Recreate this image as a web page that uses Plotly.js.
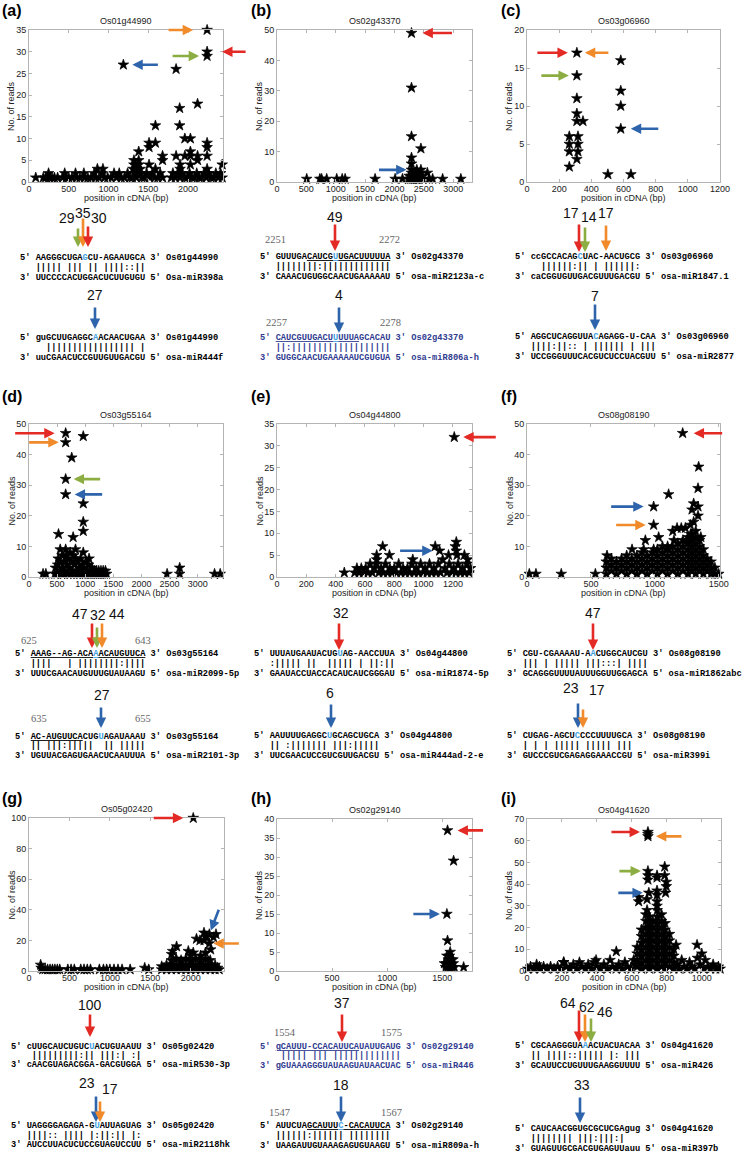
<!DOCTYPE html>
<html>
<head>
<meta charset="utf-8">
<script src="https://cdn.plot.ly/plotly-3.0.1.min.js"></script>
<style>
  body { margin: 0; background: #fff; }
  #fig { width: 750px; height: 1155px; }
</style>
</head>
<body>
<div id="fig"></div>
<script>
// ---- degradome reads (position in cDNA, no. of reads) ----
var readsA = [[2240,35],[2240,30],[2240,29],[1187,27],[1850,26],[1895,17],[2120,18],[1895,13],[1590,13],
  [1960,10],[2030,10],[1510,9],[1590,9],[1510,8],[1380,7],[2240,9],[2240,8],[2240,6],[1850,6],[1960,6],
  [2030,7],[2030,6],[2120,6],[2120,5],[1680,6],[1680,5],[2430,4],[1510,4],[1900,4],[2030,4],[1320,5],
  [1380,5],[1320,4],[1380,4],[1590,3],[860,3],[930,3],[1900,3],[2240,3],[1310,3],[1350,3],[1400,3],
  [1330,2],[85,1],[180,1],[210,1],[246,2],[260,1],[290,1],[320,1],[360,1],[420,1],[449,2],[470,1],
  [500,1],[540,1],[585,2],[600,1],[640,1],[690,2],[700,1],[740,1],[780,1],[820,2],[840,1],[880,1],
  [920,2],[950,1],[990,1],[1030,1],[1070,2],[1100,1],[1135,2],[1160,1],[1200,1],[1240,2],[1270,1],
  [1300,1],[1340,2],[1350,1],[1400,2],[1420,1],[1450,1],[1480,2],[1520,1],[1550,2],[1580,1],[1620,1],
  [1650,2],[1680,1],[1790,1],[1810,2],[1840,1],[1870,2],[1900,1],[1930,2],[1960,1],[1990,1],[2020,2],
  [2050,1],[2080,1],[2110,2],[2140,1],[2170,1],[2200,2],[2230,1],[2260,2],[2290,1],[2320,1],[2350,2],
  [2380,1],[2410,2],[2430,1]];

var readsB = [[2290,49],[2290,31],[2290,15],[2450,11],[2290,8],[2290,6],[2290,4],[2290,3],[2290,2],
  [2270,1],[2300,1],[2330,2],[2360,3],[2380,4],[2400,2],[2420,1],[2440,3],[2460,2],[2480,1],[2350,1],
  [2400,1],[2250,2],[2450,4],[2320,1],[2380,1],[2560,3],[2590,1],[2650,1],[2820,1],[3130,1],[506,1],
  [730,1],[760,1],[846,1],[1017,1],[1110,1],[1160,1],[1670,1],[2011,1],[2136,1],[2240,1]];

var readsC = [[310,17],[310,14],[310,11],[310,9],[310,8],[348,8],[263,6],[317,6],[263,5],[317,5],
  [263,4],[317,4],[310,3],[263,2],[503,1],[646,1],[583,16],[583,12],[583,10],[583,7]];

var readsD = [[652,47],[965,46],[652,44],[760,39],[652,32],[652,27],[965,24],[965,18],[965,15],[785,13],
  [525,14],[965,8],[555,9],[652,9],[827,9],[1068,6],[250,1],[300,1],[460,1],[470,3],[500,1],[510,4],
  [520,6],[540,2],[560,5],[580,1],[590,7],[600,3],[620,1],[630,5],[650,2],[660,7],[680,4],[690,1],
  [700,6],[720,3],[730,8],[740,1],[760,5],[770,2],[790,7],[800,1],[810,4],[830,6],[840,2],[860,1],
  [870,5],[890,3],[900,1],[920,6],[930,2],[950,4],[960,1],[980,3],[1000,1],[1010,5],[1030,2],[1050,1],
  [1060,4],[1080,2],[1100,1],[1120,3],[1140,1],[1160,2],[1180,1],[1200,2],[1220,1],[1240,2],[1260,1],
  [1280,2],[1300,1],[1320,2],[1340,1],[1360,2],[1380,1],[2456,1],[2680,1],[2680,3],[3300,1],[3400,1]];

var readsE = [[1209,32],[721,7],[767,5],[680,5],[680,4],[1079,7],[1109,6],[1223,8],[1216,7],[1223,6],
  [1228,5],[926,4],[1170,5],[1278,5],[1300,4],[459,1],[530,1],[545,2],[560,1],[575,2],[590,1],[605,2],
  [620,1],[635,3],[650,1],[665,2],[680,3],[695,1],[710,2],[725,1],[740,3],[755,1],[770,2],[785,1],
  [800,2],[815,1],[830,3],[845,1],[860,2],[875,1],[890,2],[905,1],[920,3],[935,1],[950,2],[965,1],
  [980,3],[995,1],[1010,2],[1025,1],[1040,3],[1055,1],[1070,2],[1085,1],[1100,3],[1115,1],[1130,4],
  [1145,2],[1160,1],[1175,3],[1190,1],[1205,2],[1220,1],[1235,3],[1250,1],[1265,2],[1280,1],[1295,3],
  [1310,1],[1320,2]];

var readsF = [[1218,47],[1343,36],[1338,29],[1108,27],[1304,24],[1338,23],[1291,22],[1338,20],[991,23],
  [991,17],[1304,18],[1278,17],[1239,16],[1207,16],[1174,16],[1140,15],[1030,13],[926,12],[822,9],
  [913,9],[991,9],[626,7],[1150,12],[1280,14],[1320,15],[1360,13],[1250,12],[1060,10],[18,1],[70,1],
  [268,1],[535,1],
  [620,1],[620,3],[620,5],[660,2],[660,4],[660,6],[700,1],[700,3],[700,5],[740,2],[740,4],[740,6],
  [780,1],[780,3],[780,5],[780,7],[820,2],[820,4],[820,6],[860,1],[860,3],[860,5],[860,7],
  [900,2],[900,4],[900,6],[900,8],[940,1],[940,3],[940,5],[940,7],[980,2],[980,4],[980,6],[980,8],
  [1020,1],[1020,3],[1020,5],[1020,7],[1020,9],[1060,2],[1060,4],[1060,6],[1060,8],
  [1100,1],[1100,3],[1100,5],[1100,7],[1100,9],[1100,10],[1140,2],[1140,4],[1140,6],[1140,8],[1140,10],
  [1180,1],[1180,3],[1180,5],[1180,7],[1180,9],[1180,11],[1220,2],[1220,4],[1220,6],[1220,8],[1220,10],[1220,12],
  [1260,1],[1260,3],[1260,5],[1260,7],[1260,9],[1260,11],[1260,13],
  [1290,2],[1290,4],[1290,6],[1290,8],[1290,10],[1290,12],[1290,14],
  [1320,1],[1320,3],[1320,5],[1320,7],[1320,9],[1320,11],[1320,13],
  [1350,2],[1350,4],[1350,6],[1350,8],[1350,10],[1350,12],[1380,1],[1380,3],[1380,5],[1380,7],[1380,9],
  [1410,2],[1410,4],[1410,6],[1440,1],[1440,3],[1440,5],[1470,1],[1470,3],[1500,1]];

var readsG = [[2030,100],[2163,25],[2229,24],[2311,24],[2113,20],[2163,20],[2229,18],[2245,14],
  [1824,16],[1775,13],[1762,11],[1969,13],[2030,12],[2070,21],[2190,22],[2280,22],
  [1640,1],[1640,3],[1670,2],[1700,1],[1700,4],[1730,2],[1760,1],[1760,4],[1760,7],[1790,2],
  [1820,1],[1820,4],[1820,8],[1850,2],[1880,1],[1880,4],[1880,7],[1910,2],[1940,1],[1940,4],[1940,8],
  [1970,2],[2000,1],[2000,4],[2000,7],[2000,10],[2030,2],[2060,1],[2060,4],[2060,8],[2090,2],
  [2120,1],[2120,4],[2120,7],[2120,10],[2150,2],[2180,1],[2180,4],[2180,8],[2180,12],[2210,2],
  [2240,1],[2240,4],[2240,7],[2270,2],[2300,1],[2300,4],[2330,2],[2350,1],
  [144,4],[150,2],[170,1],[200,1],[230,1],[260,1],[290,1],[320,1],[350,1],[380,1],[480,1],[520,1],
  [560,1],[640,1],[680,1],[720,1],[760,1],[870,1],[920,1],[960,1],[1000,1],[1050,1],[1100,1],
  [1150,1],[1250,1],[1430,2],[1480,1]];

var readsH = [[1548,37],[1603,29],[1542,15],[1548,8],[1572,5],[1542,4],[1597,3],[1694,1],[1530,1],
  [1540,2],[1550,1],[1560,2],[1570,1],[1580,3],[1590,1],[1600,2],[1610,1],[1520,2],[1555,3],[1565,4]];

var readsI = [[692,64],[692,63],[692,62],[692,46],[692,44],[692,42],[744,44],[744,43],[788,48],[788,44],
  [797,41],[797,39],[793,36],[639,34],[639,32],[687,33],[697,36],[744,37],[744,35],[744,32],[744,30],
  [687,28],[853,12],[973,12],[511,9],[395,5],[210,4],[71,2],
  [630,2],[630,5],[630,8],[630,11],[655,1],[655,4],[655,7],[655,10],[655,13],[655,16],[655,19],
  [680,2],[680,5],[680,8],[680,11],[680,14],[680,17],[680,20],[680,23],[680,26],
  [700,1],[700,4],[700,7],[700,10],[700,13],[700,16],[700,19],[700,22],[700,25],
  [720,2],[720,5],[720,8],[720,11],[720,14],[720,17],[720,20],[720,23],
  [745,1],[745,4],[745,7],[745,10],[745,13],[745,16],[745,19],[745,22],[745,25],[745,28],
  [770,2],[770,5],[770,8],[770,11],[770,14],[770,17],[770,20],[770,23],[770,26],
  [790,1],[790,4],[790,7],[790,10],[790,13],[790,16],[790,19],[790,22],
  [815,2],[815,5],[815,8],[815,11],[815,14],[815,17],[840,1],[840,4],[840,7],[840,10],
  [5,1],[20,2],[40,1],[55,3],[75,1],[95,2],[115,1],[135,2],[155,1],[175,2],[195,1],[210,4],[225,2],
  [245,1],[265,3],[285,1],[300,4],[315,2],[335,1],[350,3],[370,1],[385,4],[400,2],[420,1],[440,3],
  [460,1],[475,5],[490,2],[510,1],[525,3],[545,1],[560,4],[575,2],[595,1],[610,5],[620,3],[860,3],
  [870,1],[885,5],[900,2],[915,1],[930,4],[945,2],[960,1],[975,6],[990,3],[1000,8],[1010,1],[1020,5],
  [1035,2],[1050,1],[1065,3],[1080,1],[1095,2],[1105,1]];

var geneNames = ['Os01g44990','Os02g43370','Os03g06960','Os03g55164','Os04g44800',
                 'Os08g08190','Os05g02420','Os02g29140','Os04g41620'];
var panelLetters = ['(a)','(b)','(c)','(d)','(e)','(f)','(g)','(h)','(i)'];

// alignments: [ ] = underlined, { } = cleavage nucleotide
var alignTexts = [
  ["5' AAGGGCUGA{G}CU-AGAAUGCA 3' Os01g44990", "   ||||| ||| || ||||::||", "3' UUCCCCACUGGACUCUUGUGU 5' Osa-miR398a"],
  ["5' guGCUUGAGGC{A}ACAACUGAA 3' Os01g44990", "     ||||||||||||||||| |", "3' uuCGAACUCCGUUGUUGACGU 5' osa-miR444f"],
  ["5' GUUUGA[CAUCG{U}UGACUUUUUA] 3' Os02g43370", "   ||||||||:|||||||||||||", "3' CAAACUGUGGCAACUGAAAAAU 5' osa-miR2123a-c"],
  ["5' [CAUCGUUGACU{U}UUUA]GCACAU 3' Os02g43370", "   ||:|||||||||||||||||||", "3' GUGGCAACUGAAAAAUCGUGUA 5' osa-miR806a-h"],
  ["5' ccGCCACAG{C}UAC-AACUGCG 3' Os03g06960", "     ||||||:|| | ||||||:", "3' caCGGUGUUGACGUUUGACGU 5' osa-miR1847.1"],
  ["5' AGGCUCAGGUUA{C}AGAGG-U-CAA 3' Os03g06960", "   ||||:||:: | |||||| | |||", "3' UCCGGGUUUCACGUCUCCUACGUU 5' osa-miR2877"],
  ["5' [AAAG--AG-ACA{A}ACAUGUUCA] 3' Os03g55164", "   ||||   | ||||||||:||||", "3' UUUCGAACAUGUUUGUAUAAGU 5' osa-miR2099-5p"],
  ["5' [AC-AUGUUCA]CUG{U}AGAUAAAU 3' Os03g55164", "   || |||:|||||  || |||||", "3' UGUUACGAGUGAACUCAAUUUA 5' osa-miR2101-3p"],
  ["5' UUUAUGAAUACUG{U}AG-AACCUUA 3' Os04g44800", "   :||||| ||  ||||| | ||:||", "3' GAAUACCUACCACAUCAUCGGGAU 5' osa-miR1874-5p"],
  ["5' AAUUUUGAGGC{U}GCAGCUGCA 3' Os04g44800", "   || :||||||| |||:|||||", "3' UUCGAACUCCGUCGUUGACGU 5' osa-miR444ad-2-e"],
  ["5' CGU-CGAAAAU-A{A}CUGGCAUCGU 3' Os08g08190", "   ||| | ||||| |||:::| ||||", "3' GCAGGGUUUUAUUUGGUUGGAGCA 5' osa-miR1862abc"],
  ["5' CUGAG-AGCU{C}CCCUUUUGCA 3' Os08g08190", "   | | | ||||| ||||| |||", "3' GUCCCGUCGAGAGGAAACCGU 5' osa-miR399i"],
  ["5' cUUGCAUCUGUC{U}ACUGUAAUU 3' Os05g02420", "    |||||||||:|| |||:| :|", "3' cAACGUAGACGGA-GACGUGGA 5' osa-miR530-3p"],
  ["5' UAGGGGAGAGA-G{U}AUUAGUAG 3' Os05g02420", "   ||||:: |||| |:||:|| |:", "3' AUCCUUACUCUCCGUAGUCCUU 5' osa-miR2118hk"],
  ["5' [gCAUUU-CCACAUUCA]UAUUGAUG 3' Os02g29140", "    ||||| ||| |||||||||||||", "3' gGUAAAGGGUAUAAGUAUAACUAC 5' osa-miR446"],
  ["5' AUUCUA[GCAUUU{C}-CACAUUCA] 3' Os02g29140", "   ||||||:|||||| ||||||||", "3' UAAGAUUGUAAAGAGUGUAAGU 5' osa-miR809a-h"],
  ["5' CGCAAGGGUA{A}ACUACUACAA 3' Os04g41620", "   || ||||::||||| |: |||", "3' GCAUUCCUGUUUGAAGGUUUU 5' osa-miR426"],
  ["5' CAUCAACGGUGCGCUCGAgug 3' Os04g41620", "   |||||||| |||:|||:|", "3' GUAGUUGCGACGUGAGUUauu 5' osa-miR397b"]
];

// read counts written above the cleavage arrows
var siteCounts = ['29','35','30','27','49','4','17','14','17','7','47','32','44','27','32','6',
                  '47','23','17','100','23','17','37','18','64','62','46','33'];
var siteNumbers = ['2251','2272','2257','2278','625','643','635','655','1554','1575','1547','1567'];

// ---- layout ----
var W = 750, H = 1155;
var RED = '#e42a25', ORANGE = '#f08a2b', GREEN = '#8bad41', BLUE = '#2d64ab';
var HILITE = '#43a0df', NAVY = '#2f3b8f';

var panels = [
  {box: [29, 223, 30, 182],  xr: [0, 2440], dx: 500, yr: [0, 35],  dy: 5,  pts: readsA},
  {box: [277, 472, 30, 182], xr: [0, 3320], dx: 500, yr: [0, 50],  dy: 10, pts: readsB},
  {box: [527, 720, 30, 182], xr: [0, 1200], dx: 200, yr: [0, 20],  dy: 5,  pts: readsC},
  {box: [29, 223, 424, 577], xr: [0, 3450], dx: 500, yr: [0, 50],  dy: 10, pts: readsD},
  {box: [277, 472, 424, 577],xr: [0, 1330], dx: 200, yr: [0, 35],  dy: 5,  pts: readsE},
  {box: [527, 720, 424, 577],xr: [0, 1510], dx: 500, yr: [0, 50],  dy: 10, pts: readsF},
  {box: [29, 224, 818, 971], xr: [0, 2410], dx: 500, yr: [0, 100], dy: 20, pts: readsG},
  {box: [277, 472, 819, 971],xr: [0, 1770], dx: 500, yr: [0, 40],  dy: 5,  pts: readsH},
  {box: [527, 721, 819, 971],xr: [0, 1110], dx: 200, yr: [0, 70],  dy: 10, pts: readsI}
];
var letterPos = [[2, 11], [251, 11], [501, 11], [2, 397], [251, 397], [501, 397], [2, 798], [251, 798], [501, 798]];

// arrows inside plots: panel, read index in panel data, colour, tail dx, tail dy, standoff
var plotArrows = [
  [0, 0, ORANGE, -40, 0, 14], [0, 1, RED, 40, 0, 15], [0, 2, GREEN, -36, 0, 8], [0, 3, BLUE, 36, 0, 9],
  [1, 0, RED, 42, 0, 11], [1, 6, BLUE, -34, 0, 5],
  [2, 0, RED, -41, 0, 9], [2, 0, ORANGE, 33, 0, 8], [2, 1, GREEN, -37, 0, 8], [2, 19, BLUE, 39, 0, 10],
  [3, 0, RED, -52, 0, 11], [3, 2, ORANGE, -38, 0, 7], [3, 4, GREEN, 36, 0, 8], [3, 5, BLUE, 38, 0, 9],
  [4, 0, RED, 43, 0, 9], [4, 6, BLUE, -41, 0, 7],
  [5, 0, RED, 41, 0, 11], [5, 8, BLUE, -44, 0, 10], [5, 9, ORANGE, -39, 0, 8],
  [6, 0, RED, -41, 0, 10], [6, 2, BLUE, 10, -26, 4], [6, 6, ORANGE, 31, 0, 4],
  [7, 0, RED, 37, 0, 10], [7, 2, BLUE, -35, 0, 7],
  [8, 0, RED, -38, 0, 8], [8, 2, ORANGE, 35, 0, 8], [8, 3, GREEN, -30, 0, 7], [8, 16, BLUE, -32, 0, 6]
];

// down arrows over the alignments: x, tail y, tip y (px)
var siteArrows = [
  [78, 227, 247, GREEN], [83, 217, 247, ORANGE], [88, 225, 247, RED], [95, 306, 329, BLUE],
  [335, 223, 251, RED], [339, 306, 333, BLUE],
  [579, 223, 252, RED], [585, 226, 252, GREEN], [606, 224, 251, ORANGE], [595, 303, 330, BLUE],
  [92, 622, 648, RED], [97, 626, 648, GREEN], [102, 622, 648, ORANGE], [101, 706, 728, BLUE],
  [339, 622, 650, RED], [331, 703, 728, BLUE],
  [593, 622, 650, RED], [578, 702, 728, BLUE], [583, 708, 728, ORANGE],
  [90, 1013, 1037, RED], [96, 1095, 1122, BLUE], [100, 1100, 1122, ORANGE],
  [342, 1013, 1042, RED], [341, 1095, 1122, BLUE],
  [579, 1009, 1042, RED], [585, 1013, 1042, ORANGE], [591, 1017, 1042, GREEN], [580, 1096, 1123, BLUE]
];
var countPos = [[67, 218], [83, 213], [99, 218], [95, 295], [335, 217], [339, 295],
  [571, 213], [589, 217], [606, 213], [595, 296], [80, 614], [98, 615], [117, 614], [102, 695],
  [341, 613], [330, 693], [593, 613], [571, 688], [597, 690], [90, 1005], [87, 1083], [110, 1089],
  [342, 1003], [341, 1085], [568, 1003], [587, 1007], [605, 1012], [582, 1085]];
var numberPos = [[275, 239], [389, 239], [276, 322], [390, 322], [29, 640], [143, 640], [39, 718],
  [143, 718], [285, 1032], [392, 1032], [279, 1112], [392, 1112]];
// alignment blocks: left edge of text, y of the three lines, ink
var alignPos = [
  [20, 258, 268, 278, '#000'], [20, 338, 348, 358, '#000'],
  [260, 257, 267, 277, '#000'], [260, 338, 348, 358, NAVY],
  [515, 257, 267, 277, '#000'], [515, 337, 347, 357, '#000'],
  [15, 654, 664, 674, '#000'], [15, 737, 746, 756, '#000'],
  [254, 654, 664, 674, '#000'], [254, 736, 746, 756, '#000'],
  [507, 654, 664, 674, '#000'], [507, 736, 746, 756, '#000'],
  [11, 1047, 1056, 1065, '#000'], [11, 1126, 1136, 1145, '#000'],
  [260, 1047, 1056, 1066, NAVY], [260, 1126, 1136, 1146, '#000'],
  [515, 1046, 1056, 1066, '#000'], [515, 1129, 1139, 1149, '#000']
];

function note(x, y, text, font, extra) {
  return Object.assign({xref: 'paper', yref: 'paper', x: x / W, y: 1 - y / H, text: text,
    xanchor: 'center', yanchor: 'middle',
    showarrow: false, font: font, borderpad: 0, borderwidth: 0}, extra || {});
}

function styled(str) {
  var out = '', run = '', ul = false, hl = false;
  function flush() {
    if (!run) return;
    var txt = run.replace(/ /g, '\u00a0');
    var st = [];
    if (ul) st.push('text-decoration:underline');
    if (hl) st.push('color:' + HILITE);
    out += st.length ? '<span style="' + st.join(';') + '">' + txt + '</span>' : txt;
    run = '';
  }
  for (var k = 0; k < str.length; k++) {
    var ch = str[k];
    if (ch === '[' || ch === ']') { flush(); ul = ch === '['; }
    else if (ch === '{' || ch === '}') { flush(); hl = ch === '{'; }
    else run += ch;
  }
  flush();
  return out;
}

var axisStyle = {
  showline: true, mirror: 'ticks', linecolor: '#b4b4b4', linewidth: 1,
  ticks: 'inside', ticklen: 3, tickcolor: '#b4b4b4', tickwidth: 1,
  showgrid: false, zeroline: false, tick0: 0, fixedrange: true,
  tickfont: {size: 9, color: '#222'}
};

var data = [];
var layout = {
  width: W, height: H, margin: {l: 0, r: 0, t: 0, b: 0},
  paper_bgcolor: '#fff', plot_bgcolor: '#fff', showlegend: false,
  font: {family: 'Liberation Sans, Arial, sans-serif', size: 9, color: '#222'},
  annotations: []
};

panels.forEach(function (p, i) {
  var n = i === 0 ? '' : String(i + 1);
  layout['xaxis' + n] = Object.assign({}, axisStyle, {
    domain: [p.box[0] / W, p.box[1] / W], range: p.xr, dtick: p.dx, anchor: 'y' + n,
    ticklabelstandoff: -2
  });
  layout['yaxis' + n] = Object.assign({}, axisStyle, {
    domain: [1 - p.box[3] / H, 1 - p.box[2] / H], range: p.yr, dtick: p.dy, anchor: 'x' + n
  });
  data.push({
    type: 'scatter', mode: 'markers', xaxis: 'x' + n, yaxis: 'y' + n,
    x: p.pts.map(function (d) { return d[0]; }),
    y: p.pts.map(function (d) { return d[1]; }),
    marker: {symbol: 'star', size: 8, color: '#000', line: {width: 0.7, color: '#000'}},
    cliponaxis: false, hoverinfo: 'skip'
  });
  var cx = (p.box[0] + p.box[1]) / 2, cy = (p.box[2] + p.box[3]) / 2;
  layout.annotations.push(note(cx, p.box[2] - 9, geneNames[i], {size: 9, color: '#222'}));
  layout.annotations.push(note(cx, p.box[3] + 16, 'position in cDNA (bp)', {size: 9, color: '#222'}));
  layout.annotations.push(note(p.box[0] - 18, cy, 'No. of reads', {size: 9, color: '#222'}, {textangle: -90}));
  layout.annotations.push(note(letterPos[i][0], letterPos[i][1], panelLetters[i],
    {size: 16, color: '#000', family: 'Liberation Sans, Arial, sans-serif', weight: 'bold'},
    {xanchor: 'left'}));
});

plotArrows.forEach(function (a) {
  var n = a[0] === 0 ? '' : String(a[0] + 1);
  var pt = panels[a[0]].pts[a[1]];
  layout.annotations.push({
    xref: 'x' + n, yref: 'y' + n, x: pt[0], y: pt[1], text: '', showarrow: true,
    axref: 'pixel', ayref: 'pixel', ax: a[3], ay: a[4], standoff: a[5],
    arrowhead: 2, arrowsize: 0.8, arrowwidth: 2.6, arrowcolor: a[2]
  });
});

siteArrows.forEach(function (a) {
  layout.annotations.push({
    xref: 'paper', yref: 'paper', x: a[0] / W, y: 1 - a[2] / H, text: '', showarrow: true,
    axref: 'pixel', ayref: 'pixel', ax: 0, ay: a[1] - a[2], standoff: 0,
    arrowhead: 2, arrowsize: 0.8, arrowwidth: 2.6, arrowcolor: a[3]
  });
});

siteCounts.forEach(function (t, k) {
  layout.annotations.push(note(countPos[k][0], countPos[k][1], t, {size: 14, color: '#111'}));
});
siteNumbers.forEach(function (t, k) {
  layout.annotations.push(note(numberPos[k][0], numberPos[k][1], t,
    {size: 10.5, color: '#666', family: 'Liberation Serif, Times New Roman, serif'}));
});
alignTexts.forEach(function (lines, k) {
  var ap = alignPos[k];
  lines.forEach(function (ln, j) {
    layout.annotations.push(note(ap[0], ap[1 + j], styled(ln),
      {size: 8.7, color: ap[4], family: 'Liberation Mono, Courier New, monospace', weight: 'bold'},
      {xanchor: 'left', yanchor: 'middle'}));
  });
});

Plotly.newPlot('fig', data, layout, {staticPlot: true});
</script>
</body>
</html>
